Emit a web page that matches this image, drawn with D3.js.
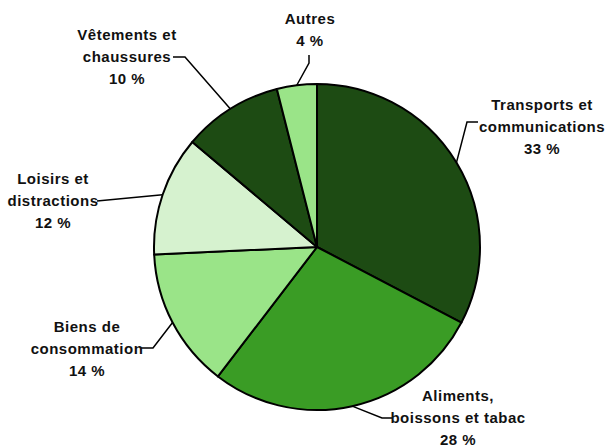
<!DOCTYPE html>
<html>
<head>
<meta charset="utf-8">
<script src="https://cdn.jsdelivr.net/npm/d3@7"></script>
<style>
  body { margin: 0; background: #fff; }
  text { font-family: "Liberation Sans", Arial, sans-serif; font-weight: bold; font-size: 15px; letter-spacing: 0.5px; fill: #111; }
</style>
</head>
<body>
<svg width="607" height="447"></svg>
<script>
// data
const categories = ['Transports et\ncommunications', 'Aliments,\nboissons et tabac', 'Biens de\nconsommation',
  'Loisirs et\ndistractions', 'Vêtements et\nchaussures', 'Autres'];
const shares = [33, 28, 14, 12, 10, 4];
const colors = ['#1d4b13', '#3a9c25', '#9ae488', '#d6f2cf', '#1d4b13', '#9ae488'];

// label layout: text centre of first line, elbow of the leader, end of the leader near the text
const labelPos = [[542, 105], [458, 396], [87, 327], [53, 179], [127, 35], [310, 19]];
const leaderElbow = [[467, 122], [382, 418], [153, 348], [97, 201], [185, 57], [309, 63]];
const leaderEnd = [[478, 122], [393, 418], [141, 348], [97, 201], [173, 57], [309, 55]];

const svg = d3.select('svg');
const cx = 317, cy = 247, radius = 163;

const g = svg.append('g').attr('transform', `translate(${cx},${cy})`);

const pie = d3.pie().sort(null).value(d => d)(shares);
const arc = d3.arc().innerRadius(0).outerRadius(radius);

g.selectAll('path.slice')
  .data(pie)
  .join('path')
  .attr('class', 'slice')
  .attr('d', arc)
  .attr('fill', (d, i) => colors[i])
  .attr('stroke', '#000')
  .attr('stroke-width', 2)
  .attr('stroke-linejoin', 'round');

// leader lines start on the rim at the middle of each slice
svg.selectAll('path.leader')
  .data(pie)
  .join('path')
  .attr('class', 'leader')
  .attr('fill', 'none')
  .attr('stroke', '#000')
  .attr('stroke-width', 1.5)
  .attr('d', (d, i) => {
    const a = (d.startAngle + d.endAngle) / 2;
    const px = cx + radius * Math.sin(a);
    const py = cy - radius * Math.cos(a);
    return d3.line()([[px, py], leaderElbow[i], leaderEnd[i]]);
  });

// labels
const lineH = 22;
svg.selectAll('text.label')
  .data(pie)
  .join('text')
  .attr('class', 'label')
  .attr('text-anchor', 'middle')
  .attr('x', (d, i) => labelPos[i][0])
  .attr('y', (d, i) => labelPos[i][1])
  .each(function (d, i) {
    const lines = categories[i].split('\n').concat([`${shares[i]} %`]);
    d3.select(this).selectAll('tspan')
      .data(lines)
      .join('tspan')
      .attr('x', labelPos[i][0])
      .attr('dy', (l, j) => j === 0 ? '0.35em' : lineH)
      .text(l => l);
  });
</script>
</body>
</html>
